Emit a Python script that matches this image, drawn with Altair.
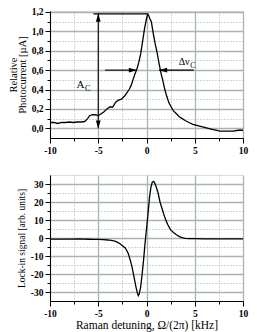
import altair as alt
import pandas as pd

# ---- data ----
top_x = [-10, -9.6, -9.2, -8.8, -8.4, -8.0, -7.6, -7.2, -6.8, -6.4, -6.1, -5.9, -5.6, -5.3, -5.0,
         -4.7, -4.4, -4.1, -3.8, -3.5, -3.2, -2.9, -2.6, -2.3, -2.0, -1.8, -1.6, -1.4, -1.2, -1.0,
         -0.8, -0.6, -0.4, -0.2, 0.0, 0.1, 0.2, 0.35, 0.5, 0.7, 0.9, 1.1, 1.3, 1.5, 1.7, 1.9, 2.1,
         2.3, 2.5, 2.8, 3.1, 3.4, 3.7, 4.0, 4.4, 4.8, 5.2, 5.6, 6.0, 6.4, 6.8, 7.2, 7.6, 8.0, 8.5,
         9.0, 9.5, 10]
top_y = [0.06, 0.06, 0.05, 0.06, 0.06, 0.065, 0.06, 0.065, 0.065, 0.07, 0.10, 0.13, 0.14, 0.14, 0.13,
         0.15, 0.17, 0.20, 0.22, 0.22, 0.27, 0.29, 0.30, 0.33, 0.37, 0.40, 0.44, 0.50, 0.56, 0.61,
         0.68, 0.77, 0.90, 1.03, 1.13, 1.17, 1.17, 1.13, 1.10, 0.98, 0.87, 0.78, 0.67, 0.57, 0.49, 0.40, 0.33,
         0.27, 0.23, 0.18, 0.15, 0.12, 0.10, 0.08, 0.06, 0.04, 0.03, 0.02, 0.01, 0.0, -0.01, -0.02, -0.03, -0.03, -0.03,
         -0.03, -0.02, -0.02]

bot_x = [-10, -9, -8, -7, -6, -5.5, -5, -4.5, -4, -3.5, -3.2, -3.0, -2.7, -2.5, -2.2, -1.9, -1.7, -1.5,
         -1.3, -1.1, -0.95, -0.85, -0.75, -0.6, -0.45, -0.3, -0.15, 0.0, 0.15, 0.3, 0.45, 0.6, 0.75, 0.85,
         1.0, 1.2, 1.4, 1.6, 1.8, 2.0, 2.2, 2.5, 2.8, 3.1, 3.4, 3.7, 4.0, 4.5, 5, 6, 7, 8, 9, 10]
bot_y = [-0.6, -0.6, -0.6, -0.5, -0.7, -0.8, -0.8, -0.9, -1.1, -1.5, -1.9, -2.4, -3.3, -4.3, -5.5, -8.5, -12, -16,
         -21.5, -27, -30.5, -32, -31, -27, -20, -12, -3, 5, 13, 22, 28, 31, 31.5, 30.5,
         28.5, 25, 20, 16.5, 13, 10, 7.5, 4.5, 3, 1.8, 0.8, 0.2, -0.2, -0.4, -0.4, -0.5, -0.5, -0.5, -0.5, -0.5]

x_ticks = [-10, -7.5, -5, -2.5, 0, 2.5, 5, 7.5, 10]
top_ticks = [0.0, 0.1, 0.2, 0.3, 0.4, 0.5, 0.6, 0.7, 0.8, 0.9, 1.0, 1.1, 1.2]
bot_ticks = [-30, -25, -20, -15, -10, -5, 0, 5, 10, 15, 20, 25, 30]

# annotation geometry (data units)
ann_x = [-5.0, -5.5, -4.3, 1.3]
ann_x2 = [-5.0, 0.2, -1.0, 4.9]
ann_y = [0.0, 1.18, 0.6, 0.6]
ann_y2 = [1.18, 1.18, 0.6, 0.6]

head_x = [-5.0, -5.0, -1.42, 1.72]
head_y = [1.14, 0.04, 0.6, 0.6]
head_ang = [0, 180, 90, 270]

lab_text = ["A", "C", "\u0394\u03bd", "C"]
lab_x = [-6.85, -6.1, 3.9, 4.8]
lab_y = [0.45, 0.41, 0.68, 0.64]
lab_size = [11, 8, 10, 7.5]

FONT = "Liberation Serif"
MAJ_GRID = "#a7b3b9"
MIN_GRID = "#a0a0a0"

def axis(values, major_test, label_expr, title=None, **kw):
    return alt.Axis(
        values=values,
        labelExpr=label_expr,
        title=title,
        grid=True,
        gridColor={"condition": {"test": major_test, "value": MAJ_GRID}, "value": MIN_GRID},
        gridDash={"condition": {"test": major_test, "value": []}, "value": [1, 2]},
        gridWidth={"condition": {"test": major_test, "value": 1.3}, "value": 0.9},
        tickSize={"condition": {"test": major_test, "value": 5}, "value": 3},
        tickColor="black",
        domainColor="black",
        labelColor="black",
        labelFont=FONT,
        labelFontSize=9.5,
        labelFontWeight="bold",
        labelPadding=2,
        labelFlush=False,
        titleFont=FONT,
        titleColor="black",
        titleFontWeight="normal",
        **kw,
    )

x_major = "datum.value % 5 === 0"
x_axis = axis(x_ticks, x_major, x_major + " ? '' + datum.value : ''")
x_axis_bottom = axis(x_ticks, x_major, x_major + " ? '' + datum.value : ''",
                     title="Raman detuning, \u03a9/(2\u03c0) [kHz]", titleFontSize=11.5, titlePadding=2)

ty_major = "round(datum.value * 10) % 2 === 0"
top_y_axis = axis(top_ticks, ty_major,
                  ty_major + " ? replace(format(datum.value, '.1f'), '.', ',') : ''",
                  title=["Relative", "Photocurrent [\u00b5A]"], titleFontSize=10.5,
                  titleLineHeight=8.5, titlePadding=4)
by_major = "datum.value % 10 === 0"
bot_y_axis = axis(bot_ticks, by_major, by_major + " ? '' + datum.value : ''",
                  title="Lock-in signal [arb. units]", titleFontSize=9.5, titlePadding=4)

xs = alt.Scale(domain=[-10, 10], nice=False, zero=False)
tys = alt.Scale(domain=[-0.1, 1.21], nice=False, zero=False)
bys = alt.Scale(domain=[-35, 35], nice=False, zero=False)

W = 193

top_df = pd.DataFrame({"x": top_x, "y": top_y})
ann_df = pd.DataFrame({"x": ann_x, "x2": ann_x2, "y": ann_y, "y2": ann_y2})
head_df = pd.DataFrame({"x": head_x, "y": head_y, "a": head_ang})
lab_df = pd.DataFrame({"t": lab_text, "x": lab_x, "y": lab_y, "s": lab_size})

X = alt.X("x:Q", scale=xs, axis=x_axis)
Y = alt.Y("y:Q", scale=tys, axis=top_y_axis)

top_line = alt.Chart(top_df).mark_line(color="black", strokeWidth=1.3).encode(x=X, y=Y)
top_ann = alt.Chart(ann_df).mark_rule(color="black", strokeWidth=1.1).encode(
    x=X, y=Y, x2="x2:Q", y2="y2:Q")
top_heads = alt.Chart(head_df).mark_point(
    shape="M0,-1L0.6,1L-0.6,1Z", filled=True, color="black", opacity=1, size=64, strokeWidth=0
).encode(x=X, y=Y, angle=alt.Angle("a:Q", scale=None))
top_labs = alt.Chart(lab_df).mark_text(font=FONT, color="black", align="center", baseline="middle").encode(
    x=X, y=Y, text="t:N", size=alt.Size("s:Q", scale=None))

top = alt.layer(top_line, top_ann, top_heads, top_labs).properties(width=W, height=127)

bot_df = pd.DataFrame({"x": bot_x, "y": bot_y})
bottom = alt.Chart(bot_df).mark_line(color="black", strokeWidth=1.3).encode(
    x=alt.X("x:Q", scale=xs, axis=x_axis_bottom),
    y=alt.Y("y:Q", scale=bys, axis=bot_y_axis),
).properties(width=W, height=126)

chart = alt.vconcat(top, bottom, spacing=19).properties(
    padding={"left": 0, "top": -2, "right": 0, "bottom": 0}
).configure_view(stroke="black", strokeWidth=1).configure(background="white")

chart.save("out.html", embed_options={"renderer": "svg", "actions": False})
